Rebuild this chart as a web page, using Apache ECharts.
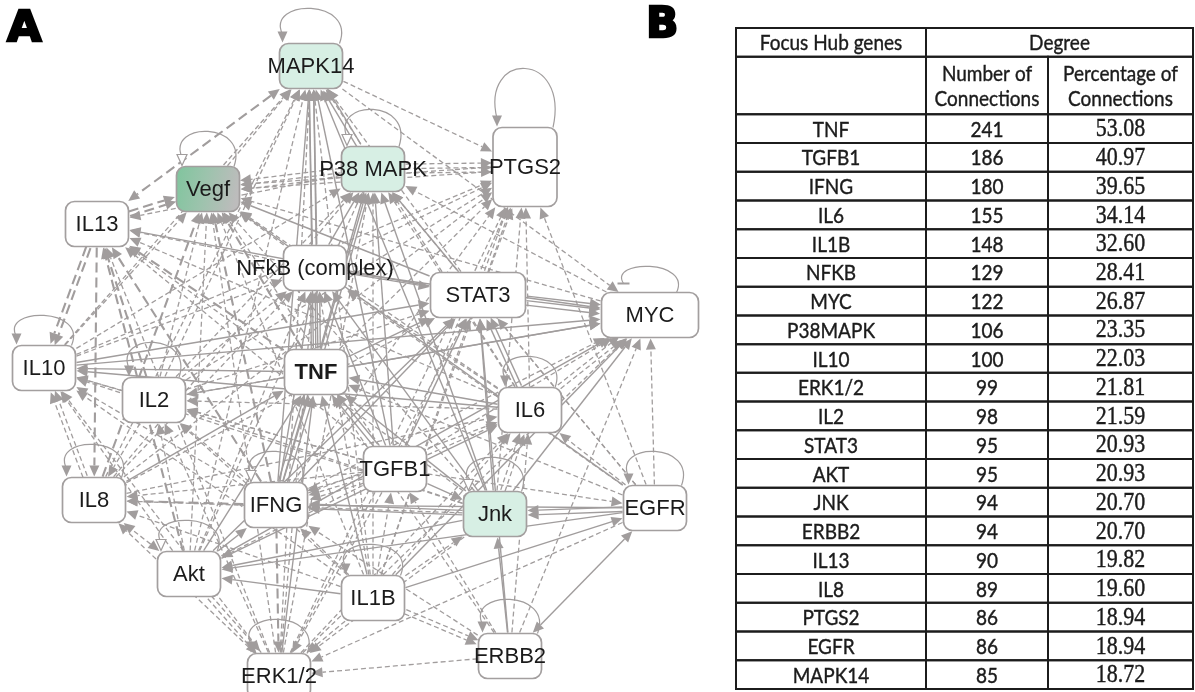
<!DOCTYPE html>
<html><head><meta charset="utf-8">
<script src="https://cdn.jsdelivr.net/npm/echarts@6/dist/echarts.min.js"></script>
<style>html,body{margin:0;padding:0;background:#fff}#c{width:1195px;height:692px}</style>
</head><body><div id="c"></div>
<script>
// ---------- Network data (panel A) ----------
const nodeKeys  = ['M','V','I13','P','PT','NF','S','MY','I10','I2','T','I6','TG','I8','IF','J','E','A','I1','EB','ER'];
const nodeNames = ['MAPK14','Vegf','IL13','P38 MAPK','PTGS2','NFkB (complex)','STAT3','MYC','IL10','IL2','TNF','IL6','TGFB1','IL8','IFNG','Jnk','EGFR','Akt','IL1B','ERBB2','ERK1/2'];
const nodeX = [311,208,97,373,525,315,478,650,44,154,316,530,395,94,276,495,655,189,373,510,279];
const nodeY = [66,189,224,169,167,268,295,315,368,400,372,410,469,500,505,514,508,574,598,656,676];

// [source, target, line type (s solid / d dashed / l long dash), parallel count, both-ends arrow]
const edges = [
 ['M','I13','l',1,1],['V','M','d',1],['P','M','s',2],['M','PT','d',1],['S','M','d',1],['NF','M','s',2],
 ['T','M','s',2],['I2','M','d',1],['IF','M','s',1],['I1','M','d',1],['J','M','s',1],['ER','M','d',1],
 ['I6','M','d',1],['TG','M','s',1],['I10','M','d',1],['M','MY','d',1],['A','M','d',1],['I8','M','d',1],
 ['I13','V','l',2],['P','V','d',3],['PT','V','d',2],['NF','V','d',1],['S','V','s',1],['T','V','l',1],
 ['I2','V','d',1],['I10','V','d',1],['IF','V','l',1],['I8','V','l',1],['A','V','d',1],['TG','V','d',1],
 ['I6','V','d',1],['J','V','d',1],['I1','V','d',1],['ER','V','d',1],['E','V','s',1],['MY','V','d',1],
 ['S','I13','s',1],['NF','I13','d',1],['T','I13','l',1],['I13','I10','l',2],['I2','I13','l',1],['I13','I8','l',1],
 ['A','I13','l',1],['IF','I13','l',1],['TG','I13','d',1],['I6','I13','d',1],['ER','I13','d',1],['J','I13','d',1],['P','I13','d',1],
 ['P','PT','d',3],['NF','P','s',1],['S','P','s',1],['T','P','s',2],['I2','P','d',1],['I6','P','d',1],
 ['TG','P','s',1],['IF','P','s',1],['J','P','s',1],['I1','P','d',1],['MY','P','d',1],['E','P','d',1],
 ['ER','P','d',1],['A','P','d',1],['I10','P','d',1],['I8','P','d',1],
 ['S','PT','d',2],['NF','PT','d',1],['T','PT','d',1],['I6','PT','d',1],['TG','PT','d',1],['IF','PT','d',1],
 ['I2','PT','d',1],['E','PT','d',1],['J','PT','d',1],['I10','PT','d',1],['I1','PT','d',1],['ER','PT','d',1],['I8','PT','d',1],
 ['NF','S','s',1],['T','NF','s',3],['I2','NF','d',1],['I10','NF','d',1],['IF','NF','s',1],['TG','NF','s',1],
 ['I6','NF','d',1],['J','NF','s',1],['NF','MY','s',1],['I1','NF','d',1],['ER','NF','d',1],['A','NF','d',1],
 ['I8','NF','d',1],['E','NF','d',1],
 ['S','MY','s',3],['T','S','s',1],['I6','S','s',2],['TG','S','s',1],['IF','S','s',1],['J','S','s',1],
 ['E','S','d',1],['I1','S','d',1],['EB','S','s',1],['I2','S','d',1],['I10','S','s',1],['ER','S','d',1],
 ['A','S','s',1],['I8','S','d',1],
 ['I6','MY','d',2],['T','MY','s',1],['TG','MY','d',1],['J','MY','s',1],['E','MY','d',1],['I1','MY','s',1],
 ['IF','MY','d',1],['I2','MY','s',1],['I10','MY','s',1],['A','MY','s',1],['ER','MY','d',1],['EB','MY','d',1],
 ['I2','I10','d',1],['T','I10','s',1],['I8','I10','d',2],['IF','I10','d',1],['A','I10','d',1],['TG','I10','d',1],
 ['I6','I10','s',1],['ER','I10','d',1],['J','I10','d',1],['I1','I10','d',1],
 ['T','I2','d',1],['IF','I2','d',1],['I2','I8','d',1],['A','I2','d',1],['TG','I2','d',1],['I6','I2','d',1],
 ['J','I2','d',1],['I1','I2','d',1],['ER','I2','d',1],
 ['I6','T','s',1],['TG','T','s',2],['IF','T','s',3],['J','T','s',1],['E','T','d',1],['A','T','s',1],
 ['I1','T','s',1],['EB','T','d',1],['ER','T','s',1],['I8','T','s',1],
 ['TG','I6','d',1],['J','I6','d',2],['E','I6','d',1],['IF','I6','d',1],['I1','I6','d',1],['EB','I6','d',1],
 ['ER','I6','d',1],['A','I6','s',1],['I8','I6','d',1],
 ['TG','IF','d',3],['TG','J','s',1],['TG','E','d',1],['I1','TG','d',1],['TG','A','d',1],['TG','ER','d',1],
 ['EB','TG','d',1],['TG','I8','d',1],
 ['IF','I8','l',1],['A','I8','d',1,1],['ER','I8','d',1],['I1','I8','d',1],['J','I8','d',1],
 ['J','IF','s',2],['A','IF','s',1],['I1','IF','d',1],['IF','ER','l',1],['EB','IF','d',1],['E','IF','s',1],
 ['E','J','s',2],['EB','J','s',1],['I1','J','d',1],['J','ER','d',1],['J','A','s',1],
 ['EB','E','s',1,1],['I1','E','s',1],['E','ER','d',1],['E','A','s',1],
 ['A','ER','d',2],['I1','A','s',1],
 ['I1','EB','d',2],['I1','ER','d',1],['EB','ER','d',1]
];
// self loops: node, width, height, arrow head (f filled / o open / t bar)
const loops = [
 ['M',57,34,'f'],['V',52,34,'o'],['P',52,36,'o'],['PT',56,58,'f'],['MY',53,25,'t'],['I10',55,29,'f'],
 ['I2',50,34,'f'],['I8',55,32,'f'],['IF',50,30,'o'],['A',56,30,'o'],['I6',50,30,'f'],['J',53,33,'o'],
 ['E',53,33,'f'],['EB',55,33,'f'],['ER',56,33,'f'],['I1',55,30,'f']
];

// ---------- Table data (panel B) ----------
const hubGenes = ['TNF','TGFB1','IFNG','IL6','IL1B','NFKB','MYC','P38MAPK','IL10','ERK1/2','IL2','STAT3','AKT','JNK','ERBB2','IL13','IL8','PTGS2','EGFR','MAPK14'];
const numConnections = [241,186,180,155,148,129,122,106,100,99,98,95,95,94,94,90,89,86,86,85];
const pctConnections = ['53.08','40.97','39.65','34.14','32.60','28.41','26.87','23.35','22.03','21.81','21.59','20.93','20.93','20.70','20.70','19.82','19.60','18.94','18.94','18.72'];
const headerTexts = ['Focus Hub genes','Degree','Number of\nConnections','Percentage of\nConnections'];

// ---------- styles ----------
const EDGE = '#a19d9d';
const BOX_STROKE = '#a39f9f';
const MINT = '#d7efe4';
const boxSize = { PT:[64,79], MY:[97,45], S:[95,45] }; // default [63,45]
function boxOf(i){ const s = boxSize[nodeKeys[i]] || [63,45]; return [s[0]/2, s[1]/2]; }
const idx = {}; nodeKeys.forEach((k,i)=>idx[k]=i);
const edgeList = edges.map(e=>({s:idx[e[0]], t:idx[e[1]], type:e[2], n:e[3], both:!!e[4]}));
const loopList = loops.map(l=>({i:idx[l[0]], w:l[1], h:l[2], head:l[3]}));

function exitPoint(cx,cy,ux,uy,hb){
  const tx = Math.abs(ux)>1e-6 ? hb[0]/Math.abs(ux) : 1e9;
  const ty = Math.abs(uy)>1e-6 ? hb[1]/Math.abs(uy) : 1e9;
  const t = Math.min(tx,ty)+1;
  return [cx+ux*t, cy+uy*t];
}
function arrowHead(tip,ux,uy,len,hw,open){
  const bx=tip[0]-ux*len, by=tip[1]-uy*len, px=-uy, py=ux;
  return {type:'polygon', shape:{points:[tip,[bx+px*hw,by+py*hw],[bx-px*hw,by-py*hw]]},
    style: open ? {fill:'#fff', stroke:EDGE, lineWidth:1.2} : {fill:EDGE}};
}
function lineStyle(type){
  if(type==='s') return {stroke:EDGE, lineWidth:1.4, fill:null};
  if(type==='l') return {stroke:EDGE, lineWidth:2.1, lineDash:[10,5], fill:null};
  return {stroke:EDGE, lineWidth:1.3, lineDash:[5,3], fill:null};
}

function renderEdge(params, api){
  const e = edgeList[params.dataIndex];
  const a = api.coord([nodeX[e.s], nodeY[e.s]]);
  const b = api.coord([nodeX[e.t], nodeY[e.t]]);
  const dx=b[0]-a[0], dy=b[1]-a[1], L=Math.hypot(dx,dy), ux=dx/L, uy=dy/L, px=-uy, py=ux;
  const children=[];
  const AL=11, AW=5;
  for(let k=0;k<e.n;k++){
    const off=(k-(e.n-1)/2)*4.5;
    const pa=exitPoint(a[0]+px*off,a[1]+py*off,ux,uy,boxOf(e.s));
    const pb=exitPoint(b[0]+px*off,b[1]+py*off,-ux,-uy,boxOf(e.t));
    const sx = e.both ? pa[0]+ux*AL : pa[0], sy = e.both ? pa[1]+uy*AL : pa[1];
    children.push({type:'line', shape:{x1:sx,y1:sy,x2:pb[0]-ux*AL,y2:pb[1]-uy*AL}, style:lineStyle(e.type)});
    children.push(arrowHead(pb,ux,uy,AL,AW,false));
    if(e.both) children.push(arrowHead(pa,-ux,-uy,AL,AW,false));
  }
  return {type:'group', children};
}

function renderLoop(params, api){
  const l = loopList[params.dataIndex];
  const c = api.coord([nodeX[l.i], nodeY[l.i]]);
  const hb = boxOf(l.i);
  const top = c[1]-hb[1];
  const x1=c[0]-l.w/2, x2=c[0]+l.w/2;
  const children=[{type:'bezierCurve', shape:{x1:x1,y1:top-9,x2:x2,y2:top,
     cpx1:x1-l.w*0.3, cpy1:top-l.h*1.33, cpx2:x2+l.w*0.3, cpy2:top-l.h*1.33},
     style:{stroke:EDGE, lineWidth:1.2, fill:null}}];
  if(l.head==='t'){
    children.push({type:'line', shape:{x1:x1-6,y1:top-9,x2:x1+6,y2:top-9}, style:{stroke:EDGE,lineWidth:2}});
  } else {
    children.push(arrowHead([x1,top-1],0,1,11,5,l.head==='o'));
  }
  return {type:'group', children};
}

function renderNode(params, api){
  const i = params.dataIndex;
  const c = api.coord([nodeX[i], nodeY[i]]);
  const hb = boxOf(i);
  const key = nodeKeys[i];
  let fill = '#fff';
  if(key==='M'||key==='P'||key==='J') fill = MINT;
  if(key==='V') fill = new echarts.graphic.LinearGradient(0,0,1,0.3,[{offset:0,color:'#7fc59d'},{offset:0.5,color:'#9dc3ad'},{offset:1,color:'#bdbcbc'}]);
  return {type:'group', children:[
    {type:'rect', shape:{x:c[0]-hb[0], y:c[1]-hb[1], width:hb[0]*2, height:hb[1]*2, r:9},
     style:{fill, stroke:BOX_STROKE, lineWidth:1.7}},
    {type:'text', x:c[0], y:c[1]+1, style:{text:nodeNames[i], align:'center', verticalAlign:'middle',
     font:(key==='T'?'bold ':'')+'22px "Liberation Sans", Arial, sans-serif', fill:'#1b1b1b'}}
  ]};
}

// ---------- table cells built from the arrays ----------
const colEdges = [0,190,312,457];
const cells = [
  [0,1,0,1,headerTexts[0],'sans'], [1,3,0,1,headerTexts[1],'sans'],
  [0,1,1,3,'','sans'], [1,2,1,3,headerTexts[2],'sans'], [2,3,1,3,headerTexts[3],'sans']
];
hubGenes.forEach((g,i)=>{
  cells.push([0,1,3+i,4+i,g,'sans']);
  cells.push([1,2,3+i,4+i,String(numConnections[i]),'sans']);
  cells.push([2,3,3+i,4+i,pctConnections[i],'serif']);
});
function renderCell(params, api){
  const c = cells[params.dataIndex];
  const p0 = api.coord([colEdges[c[0]], c[2]]);
  const p1 = api.coord([colEdges[c[1]], c[3]]);
  const font = c[5]==='serif' ? '22px "Liberation Serif", "DejaVu Serif", serif' : '19px Lato, "Open Sans", sans-serif';
  return {type:'group', children:[
    {type:'rect', shape:{x:p0[0], y:p0[1], width:p1[0]-p0[0], height:p1[1]-p0[1]},
     style:{fill:null, stroke:'#1c1c1c', lineWidth:2}},
    {type:'text', x:(p0[0]+p1[0])/2, y:(p0[1]+p1[1])/2+1, scaleY:1.16,
     style:{text:c[4], align:'center', verticalAlign:'middle', font, lineHeight:21, fill:'#1b1b1b',
            stroke:'#1b1b1b', lineWidth:0.35}}
  ]};
}

const chart = echarts.init(document.getElementById('c'), null, {renderer:'canvas'});
chart.setOption({
  animation:false,
  backgroundColor:'#fff',
  grid:[{left:0, top:0, width:720, height:692},{left:736, top:28, width:457, height:661}],
  xAxis:[{type:'value', min:0, max:720, show:false, gridIndex:0},{type:'value', min:0, max:457, show:false, gridIndex:1}],
  yAxis:[{type:'value', min:0, max:692, inverse:true, show:false, gridIndex:0},{type:'value', min:0, max:23, inverse:true, show:false, gridIndex:1}],
  graphic:[
    {type:'text', left:6, top:8, scaleX:1.05, style:{text:'A', font:'900 42px "DejaVu Sans", sans-serif', fill:'#000', stroke:'#000', lineWidth:2.5}},
    {type:'text', left:645, top:4, style:{text:'B', font:'900 42px "DejaVu Sans", sans-serif', fill:'#000', stroke:'#000', lineWidth:2.5}}
  ],
  series:[
    {type:'custom', xAxisIndex:0, yAxisIndex:0, renderItem:renderEdge, data:edgeList.map(e=>[nodeX[e.s],nodeY[e.s]]), silent:true, z:1},
    {type:'custom', xAxisIndex:0, yAxisIndex:0, renderItem:renderLoop, data:loopList.map(l=>[nodeX[l.i],nodeY[l.i]]), silent:true, z:2},
    {type:'custom', xAxisIndex:0, yAxisIndex:0, renderItem:renderNode, data:nodeX.map((x,i)=>[x,nodeY[i]]), silent:true, z:3},
    {type:'custom', xAxisIndex:1, yAxisIndex:1, renderItem:renderCell, data:cells.map(c=>[colEdges[c[0]],c[2]]), silent:true, z:3}
  ]
});
</script></body></html>
